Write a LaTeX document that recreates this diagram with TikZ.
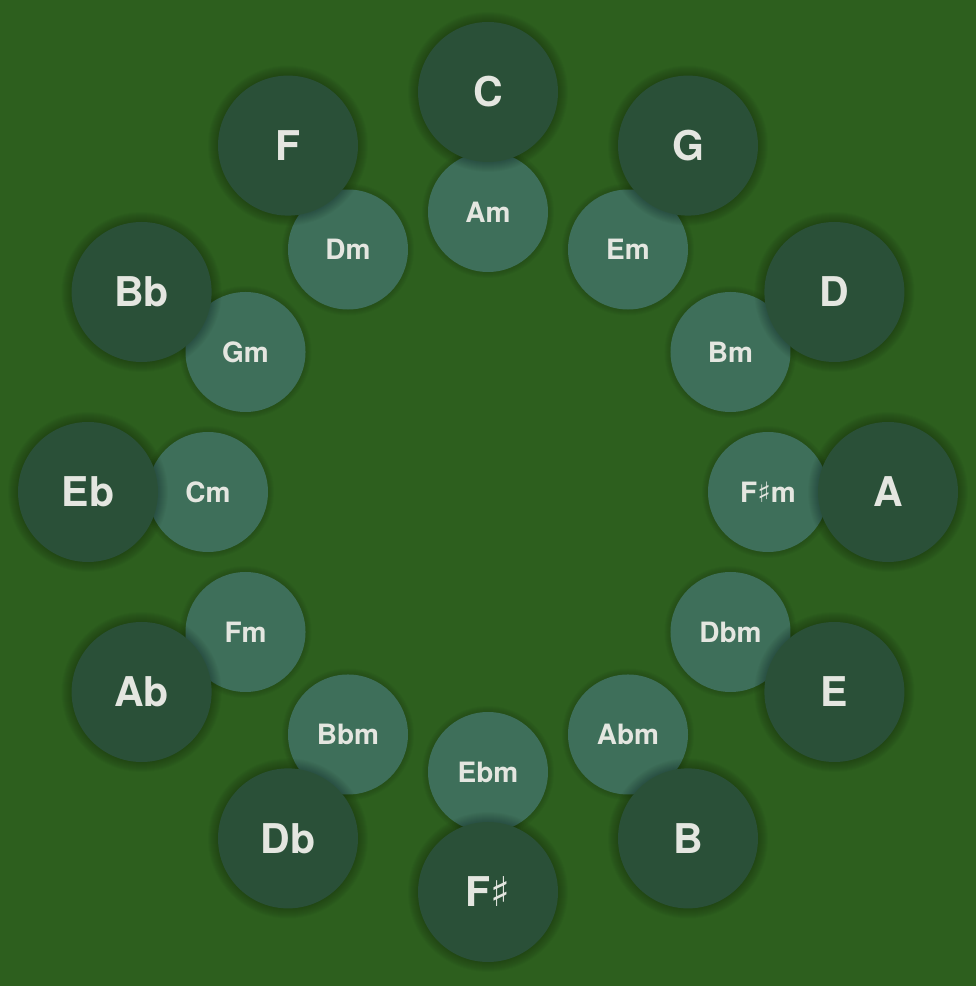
\documentclass[tikz,border=0pt]{standalone}
\usepackage{fontspec}
\usetikzlibrary{calc}
\setmainfont{TeX Gyre Heros}
\newfontfamily\symfont{DejaVu Sans}
\newcommand{\shp}{{\symfont\mdseries ♯}}
\definecolor{bg}{HTML}{2D5F1E}
\definecolor{outerc}{HTML}{2A5038}
\definecolor{innerc}{HTML}{3E6F5A}
\definecolor{txt}{HTML}{E4E6E0}
\tikzset{
  outerkey/.style={circle, fill=outerc, minimum size=140pt, inner sep=0pt, text=txt, font=\fontsize{41}{41}\selectfont\bfseries},
  innerkey/.style={circle, fill=innerc, minimum size=120pt, inner sep=0pt, text=txt, font=\fontsize{28}{28}\selectfont\bfseries},
  halo/.style={fill=black, opacity=0.025}
}
\begin{document}
\begin{tikzpicture}[x=1pt,y=1pt]
\fill[bg] (0,0) rectangle (976,986);
\useasboundingbox (0,0) rectangle (976,986);
\coordinate (O) at (488,494);
% inner (minor) keys
\foreach \ang/\nm/\lab in {90/am/Am,60/em/Em,30/bm/Bm,0/fsm/F\shp m,-30/dbm/Dbm,-60/abm/Abm,-90/ebm/Ebm,-120/bbm/Bbm,-150/fm/Fm,180/cm/Cm,150/gm/Gm,120/dm/Dm}{
  \foreach \k in {1,...,6}{\fill[halo] ($(O)+(\ang:280)$) circle (60+\k);}
  \node[innerkey] (\nm) at ($(O)+(\ang:280)$) {\lab};
}
% outer (major) keys
\foreach \ang/\nm/\lab in {90/c/C,60/g/G,30/d/D,0/a/A,-30/e/E,-60/b/B,-90/fs/F\shp,-120/db/Db,-150/ab/Ab,180/eb/Eb,150/bb/Bb,120/f/F}{
  \foreach \k in {1,...,10}{\fill[halo] ($(O)+(\ang:400)$) circle (70+\k);}
  \node[outerkey] (\nm) at ($(O)+(\ang:400)$) {\lab};
}
\end{tikzpicture}
\end{document}
